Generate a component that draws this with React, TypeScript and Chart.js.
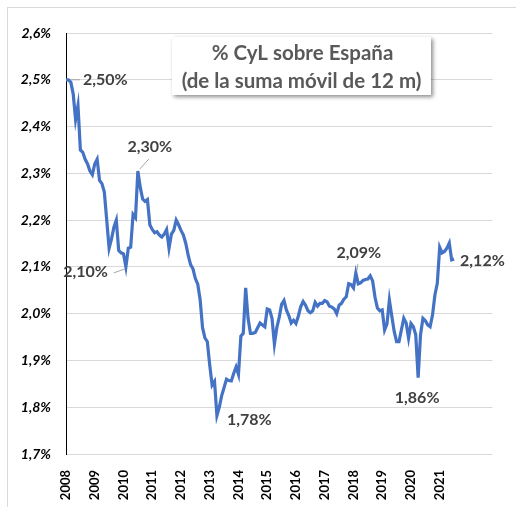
import { useEffect, useRef } from 'react';
import { Chart, registerables } from 'chart.js';

Chart.register(...registerables);

const tickYears = ['2008', '2009', '2010', '2011', '2012', '2013', '2014', '2015', '2016', '2017', '2018', '2019', '2020', '2021'];
const axisExtraYear = '2022';
const axisExtraMonths = 11;
const monthCodes = ['01', '02', '03', '04', '05', '06', '07', '08', '09', '10', '11', '12'];

const categories: string[] = [];
for (const y of tickYears) for (const m of monthCodes) categories.push(`${y}-${m}`);
for (let k = 0; k < axisExtraMonths; k++) categories.push(`${axisExtraYear}-${monthCodes[k]}`);

// % CyL sobre España, monthly from 2008-01
const shareValues = [
  // 2008
  2.50, 2.50, 2.495, 2.47, 2.415, 2.445, 2.35, 2.345, 2.33, 2.32, 2.305, 2.297,
  // 2009
  2.32, 2.33, 2.285, 2.278, 2.26, 2.20, 2.14, 2.16, 2.185, 2.20, 2.135, 2.13,
  // 2010
  2.128, 2.10, 2.14, 2.142, 2.212, 2.205, 2.305, 2.27, 2.245, 2.24, 2.244, 2.19,
  // 2011
  2.18, 2.173, 2.175, 2.168, 2.164, 2.17, 2.18, 2.14, 2.17, 2.178, 2.20, 2.19,
  // 2012
  2.178, 2.168, 2.15, 2.125, 2.105, 2.096, 2.075, 2.063, 2.03, 1.97, 1.948, 1.94,
  // 2013
  1.89, 1.847, 1.855, 1.782, 1.80, 1.825, 1.842, 1.86, 1.857, 1.856, 1.872, 1.886,
  // 2014
  1.87, 1.952, 1.958, 2.055, 1.99, 1.958, 1.958, 1.96, 1.97, 1.98, 1.976, 1.972,
  // 2015
  2.01, 2.008, 1.99, 1.935, 1.97, 1.992, 2.02, 2.028, 2.008, 1.996, 1.98, 1.986,
  // 2016
  1.979, 1.995, 2.015, 2.026, 2.018, 2.006, 2.002, 2.006, 2.024, 2.016, 2.022, 2.022,
  // 2017
  2.028, 2.025, 2.016, 2.014, 2.01, 2.0, 2.018, 2.022, 2.031, 2.036, 2.064, 2.062,
  // 2018
  2.055, 2.087, 2.064, 2.066, 2.071, 2.073, 2.074, 2.081, 2.07, 2.035, 2.012, 2.006,
  // 2019
  2.008, 1.965, 1.978, 2.029, 1.995, 1.962, 1.94, 1.94, 1.965, 1.99, 1.98, 1.948,
  // 2020
  1.979, 1.972, 1.955, 1.863, 1.955, 1.99, 1.985, 1.976, 1.972, 1.997, 2.04, 2.065,
  // 2021
  2.142, 2.13, 2.133, 2.14, 2.151, 2.115, 2.117,
];

const series = categories.map((_, i) => (i < shareValues.length ? shareValues[i] : null));

const calloutIndex = [0, 30, 25, 63, 121, 147, 162];
const calloutText = ['2,50%', '2,30%', '2,10%', '1,78%', '2,09%', '1,86%', '2,12%'];

const titleLines = ['% CyL sobre España', '(de la suma móvil de 12 m)'];

const yMin = 1.7;
const yMax = 2.6;
const yStep = 0.1;

const FONT = 'Lato, "Open Sans", sans-serif';

// placement of each callout relative to its point
const calloutPlacement: Record<number, { dx: number; dy: number; align: CanvasTextAlign; leader?: number[][] }> = {
  0: { dx: 17, dy: 0, align: 'left', leader: [[4, 0], [14, 0]] },
  30: { dx: 12, dy: -24, align: 'center', leader: [[2, -2], [11, -12]] },
  25: { dx: -18, dy: 5, align: 'right', leader: [[-1, 2], [-12, 6]] },
  63: { dx: 10, dy: 4, align: 'left' },
  121: { dx: 3, dy: -20, align: 'center', leader: [[1, -2], [2, -9]] },
  147: { dx: -1, dy: 20, align: 'center' },
  162: { dx: 6, dy: 2, align: 'left' },
};

const decorPlugin = {
  id: 'decor',
  beforeDraw(chart: any) {
    const ctx = chart.ctx;
    ctx.save();
    ctx.fillStyle = '#ffffff';
    ctx.fillRect(0, 0, chart.width, chart.height);
    ctx.strokeStyle = '#d9d9d9';
    ctx.lineWidth = 1;
    ctx.strokeRect(7.5, 7.5, chart.width, chart.height);
    ctx.restore();
  },
  afterDatasetsDraw(chart: any) {
    const ctx = chart.ctx;
    const xs = chart.scales.x;
    const ys = chart.scales.y;
    ctx.save();
    ctx.font = `bold 16px ${FONT}`;
    ctx.textBaseline = 'middle';
    calloutIndex.forEach((idx, k) => {
      const v = shareValues[idx];
      const px = xs.getPixelForValue(idx);
      const py = ys.getPixelForValue(v);
      const p = calloutPlacement[idx];
      if (p.leader) {
        ctx.strokeStyle = '#a6a6a6';
        ctx.lineWidth = 1;
        ctx.beginPath();
        p.leader.forEach((pt, j) => {
          if (j === 0) ctx.moveTo(px + pt[0], py + pt[1]);
          else ctx.lineTo(px + pt[0], py + pt[1]);
        });
        ctx.stroke();
      }
      ctx.fillStyle = '#404040';
      ctx.textAlign = p.align;
      ctx.fillText(calloutText[k], px + p.dx, py + p.dy);
    });
    ctx.restore();

    // title box
    ctx.save();
    const bx = 172, by = 37, bw = 259, bh = 58;
    ctx.shadowColor = 'rgba(0,0,0,0.45)';
    ctx.shadowBlur = 4;
    ctx.shadowOffsetX = 2;
    ctx.shadowOffsetY = 2;
    ctx.fillStyle = '#ffffff';
    ctx.fillRect(bx, by, bw, bh);
    ctx.shadowColor = 'transparent';
    ctx.fillStyle = '#595959';
    ctx.font = `bold 20.5px ${FONT}`;
    ctx.textAlign = 'center';
    ctx.textBaseline = 'middle';
    ctx.fillText(titleLines[0], bx + bw / 2 + 1, 53);
    ctx.fillText(titleLines[1], bx + bw / 2, 81);
    ctx.restore();
  },
};

export default function App() {
  const ref = useRef<HTMLCanvasElement | null>(null);
  useEffect(() => {
    if (!ref.current) return;
    const chart = new Chart(ref.current, {
      type: 'line',
      data: {
        labels: categories,
        datasets: [
          {
            data: series,
            borderColor: '#4472C4',
            borderWidth: 3.2,
            pointRadius: 0,
            tension: 0,
            fill: false,
            spanGaps: false,
          },
        ],
      },
      options: {
        responsive: false,
        animation: false,
        layout: { padding: { left: 0, top: 33, right: 11, bottom: 0 } },
        plugins: { legend: { display: false }, tooltip: { enabled: false }, title: { display: false } },
        scales: {
          x: {
            type: 'category',
            offset: false,
            grid: { display: false },
            border: { display: false },
            ticks: {
              autoSkip: false,
              maxRotation: 90,
              minRotation: 90,
              padding: 8,
              color: '#000000',
              font: { family: FONT, size: 13, weight: 'bold' },
              callback: (_v: any, i: number) => {
                const c = categories[i];
                const [y, m] = c.split('-');
                return m === '01' && tickYears.includes(y) ? y : '';
              },
            },
            afterFit: (s: any) => {
              s.height = 53;
            },
          },
          y: {
            min: yMin,
            max: yMax,
            grid: { color: '#d9d9d9', drawTicks: false, lineWidth: 1 },
            border: { display: true, color: '#000000', width: 1 },
            ticks: {
              stepSize: yStep,
              padding: 15,
              color: '#000000',
              font: { family: FONT, size: 14, weight: 'bold', style: 'italic' },
              callback: (v: any) => Number(v).toFixed(1).replace('.', ',') + '%',
            },
            afterFit: (s: any) => {
              s.width = 66;
            },
          },
        },
      },
      plugins: [decorPlugin],
    });
    return () => chart.destroy();
  }, []);
  return (
    <div style={{ position: 'fixed', left: 0, top: 0, width: 516, height: 507 }}>
      <canvas ref={ref} width={516} height={507} style={{ display: 'block', width: 516, height: 507 }} />
    </div>
  );
}
